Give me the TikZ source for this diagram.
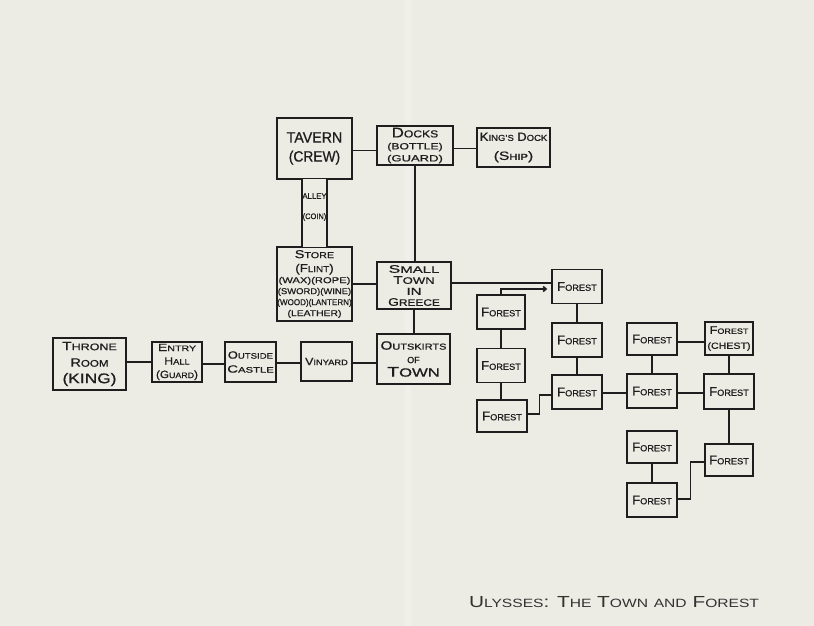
\documentclass[tikz,border=0pt]{standalone}
\usepackage{fontspec}
\setmainfont{Liberation Sans}[FakeBold=0.8]
\newfontfamily\thinpen{Liberation Sans}
\usepackage{graphicx}
\usetikzlibrary{arrows.meta}
\definecolor{paper}{RGB}{236,236,228}
\definecolor{ink}{RGB}{30,30,30}
\newcommand\hwrr{0.75}
\newcommand\hwcap[3][1]{\scalebox{#1}[1]{#2\scalebox{\hwrr}{#3}}}
\newcommand\hwst[2][1]{\scalebox{#1}[1]{#2}}
\tikzset{
  room/.style={draw=ink, line width=1.4pt, fill=paper, inner sep=0pt, align=center, text=ink},
  wood/.style={room, minimum width=50pt, minimum height=34pt, font=\fontsize{12.5}{14}\selectfont\def\hwrr{0.7}},
  link/.style={draw=ink, line width=1.5pt},
  note/.style={inner sep=0pt, text=ink, align=center},
}
\begin{document}
\begin{tikzpicture}[x=1pt,y=-1pt]
\useasboundingbox (0,0) rectangle (814,626);
\fill[paper] (0,0) rectangle (814,626);
\fill[white,opacity=0.25] (405,0) rectangle (411,626);

% town rooms
\node[room, minimum width=75pt, minimum height=61pt, font=\fontsize{15}{19}\selectfont] (tavern) at (314.5,148.5) {\hwst[.95]{TAVERN}\\\hwst[.92]{(CREW)}};
\node[room, minimum width=76pt, minimum height=39pt, font=\fontsize{9}{12}\selectfont\def\hwrr{0.72}] (docks) at (415,145.5) {{\fontsize{14}{14}\selectfont\hwcap[1.2]{D}{OCKS}}\\\hwst[1.35]{(BOTTLE)}\\\hwst[1.45]{(GUARD)}};
\node[room, minimum width=73pt, minimum height=39pt, font=\fontsize{12}{19}\selectfont\def\hwrr{0.72}] (kings) at (513.5,147.5) {\hwcap[1.1]{K}{ING'S} \hwcap[1.1]{D}{OCK}\\\hwst[1.3]{(\hwcap{S}{HIP})}};
\node[room, minimum width=75pt, minimum height=74pt, font=\fontsize{8.5}{11}\selectfont] (store) at (314.5,284) {{\fontsize{11.5}{11}\selectfont\hwcap[1.25]{S}{TORE}}\\[3pt]{\fontsize{11.5}{11}\selectfont\hwst[1.15]{(\hwcap{F}{LINT})}}\\\hwst[1.32]{(WAX)(ROPE)}\\\hwst[1.11]{(SWORD)(WINE)}\\\hwst[0.95]{(WOOD)(LANTERN)}\\\hwst[1.22]{(LEATHER)}};
\node[room, minimum width=74pt, minimum height=47pt, font=\fontsize{11}{11}\selectfont\def\hwrr{0.85}] (town) at (414,285.5) {\hwcap[1.6]{S}{MALL}\\\hwcap[1.4]{T}{OWN}\\{\fontsize{10}{10}\selectfont\hwst[1.5]{IN}}\\\hwcap[1.27]{G}{REECE}};
\node[room, minimum width=73pt, minimum height=50pt, font=\fontsize{12}{13.5}\selectfont\def\hwrr{0.72}] (outskirts) at (413.5,359) {\hwcap[1.27]{O}{UTSKIRTS}\\{\fontsize{9}{9}\selectfont OF}\\{\fontsize{14}{14}\selectfont\def\hwrr{0.85}\hwcap[1.4]{T}{OWN}}};
\node[room, minimum width=73pt, minimum height=52pt, font=\fontsize{12}{16.5}\selectfont\def\hwrr{0.8}] (throne) at (89.5,364) {\hwcap[1.3]{T}{HRONE}\\\hwcap[1.2]{R}{OOM}\\{\fontsize{14}{14}\selectfont\hwst[1.24]{(KING)}}};
\node[room, minimum width=50pt, minimum height=40pt, font=\fontsize{10.5}{13.5}\selectfont] (entry) at (177,362) {\hwcap[1.35]{E}{NTRY}\\\hwcap[1.18]{H}{ALL}\\\hwst[1.12]{(\hwcap{G}{UARD})}};
\node[room, minimum width=51pt, minimum height=40pt, font=\fontsize{10.5}{14}\selectfont] (outside) at (250.5,362) {\hwcap[1.22]{O}{UTSIDE}\\\hwcap[1.43]{C}{ASTLE}};
\node[room, minimum width=51pt, minimum height=39pt, font=\fontsize{10.5}{14}\selectfont] (vinyard) at (326.5,361.5) {\hwcap[1.18]{V}{INYARD}};

% alley corridor
\fill[paper] ([xshift=-11.7pt,yshift=1pt]tavern.south) rectangle ([xshift=11.7pt,yshift=-1pt]store.north);
\draw[room, fill=none] ([xshift=-12.5pt]tavern.south) -- ([xshift=-12.5pt]store.north);
\draw[room, fill=none] ([xshift=12.5pt]tavern.south) -- ([xshift=12.5pt]store.north);
\node[note, font=\fontsize{8}{8}\selectfont] (alley) at (314.5,196) {\hwst[0.97]{ALLEY}};
\node[note, font=\fontsize{8}{8}\selectfont] (coin) at (314.5,217) {\hwst[0.93]{(COIN)}};

% forest
\node[wood] (fm1) at (577,286.5) {\hwcap[1.05]{F}{OREST}};
\node[wood] (fm2) at (577,340) {\hwcap[1.05]{F}{OREST}};
\node[wood] (fm3) at (577,392) {\hwcap[1.05]{F}{OREST}};
\node[wood, minimum width=48pt] (fl1) at (501,312) {\hwcap[1.05]{F}{OREST}};
\node[wood, minimum width=48pt] (fl2) at (501,365.5) {\hwcap[1.05]{F}{OREST}};
\node[wood, minimum height=32pt] (fl3) at (502,416) {\hwcap[1.05]{F}{OREST}};
\node[wood, minimum height=32pt] (fr1) at (652,339) {\hwcap[1.05]{F}{OREST}};
\node[room, minimum width=48pt, minimum height=33pt, font=\fontsize{9}{15}\selectfont\def\hwrr{0.7}] (chest) at (729,338.5) {{\fontsize{11}{11}\selectfont\hwcap[1.17]{F}{OREST}}\\\hwst[1.18]{(CHEST)}};
\node[wood] (fr2) at (652,391) {\hwcap[1.05]{F}{OREST}};
\node[wood, minimum width=50pt, minimum height=35pt] (fr3) at (729,391.5) {\hwcap[1.05]{F}{OREST}};
\node[wood, minimum width=48pt, minimum height=32pt] (fr4) at (729,460) {\hwcap[1.05]{F}{OREST}};
\node[wood, minimum height=32pt] (fr5) at (652,447) {\hwcap[1.05]{F}{OREST}};
\node[wood] (fr6) at (652,500) {\hwcap[1.05]{F}{OREST}};

% connectors
\draw[link] ([yshift=-2pt]tavern.east) -- ([yshift=-2pt]tavern.east -| docks.west);
\draw[link] ([yshift=-3pt]docks.east) -- ([yshift=-3pt]docks.east -| kings.west);
\draw[link] (docks.south) -- (docks.south |- town.north);
\draw[link] (store.east) -- (store.east -| town.west);
\draw[link] (town.south) -- (town.south |- outskirts.north);
\draw[link] ([yshift=2pt]throne.east) -- ([yshift=2pt]throne.east -| entry.west);
\draw[link] ([yshift=-2pt]entry.east) -- ([yshift=-2pt]entry.east -| outside.west);
\draw[link] ([yshift=-1pt]outside.east) -- ([yshift=-1pt]outside.east -| vinyard.west);
\draw[link] ([yshift=-1.5pt]vinyard.east) -- ([yshift=-1.5pt]vinyard.east -| outskirts.west);
\draw[link] ([yshift=2.5pt]town.east) -- ([yshift=2.5pt]town.east -| fm1.west);
\draw[link, -{Straight Barb[length=3pt,width=5pt]}] (fl1.north) |- ([xshift=-4pt,yshift=-2.5pt]fm1.west);
\draw[link] (fl1) -- (fl2);
\draw[link] (fl2.south) -- (fl2.south |- fl3.north);
\draw[link] (fm1) -- (fm2);
\draw[link] (fm2) -- (fm3);
\draw[link] ([yshift=2pt]fl3.east) -- ++(12,0) |- ([yshift=-3pt]fm3.west);
\draw[link] ([yshift=-1pt]fm3.east) -- ([yshift=-1pt]fm3.east -| fr2.west);
\draw[link] (fr1) -- (fr2);
\draw[link] ([yshift=-3pt]fr1.east) -- ([yshift=-3pt]fr1.east -| chest.west);
\draw[link] ([yshift=-2pt]fr2.east) -- ([yshift=-2pt]fr2.east -| fr3.west);
\draw[link] (chest) -- (fr3);
\draw[link] (fr3) -- (fr4);
\draw[link] (fr5) -- (fr6);
\draw[link] ([yshift=1pt]fr6.east) -- ++(13,0) |- ([yshift=-2pt]fr4.west);

% title
\node[note, font=\thinpen\fontsize{16}{16}\selectfont, text={rgb,255:red,50;green,50;blue,50}] (title) at (614,602) {\hwst[1.3]{\hwcap{U}{LYSSES}: \hwcap{T}{HE} \hwcap{T}{OWN} \scalebox{0.75}{AND} \hwcap{F}{OREST}}};
\end{tikzpicture}
\end{document}
